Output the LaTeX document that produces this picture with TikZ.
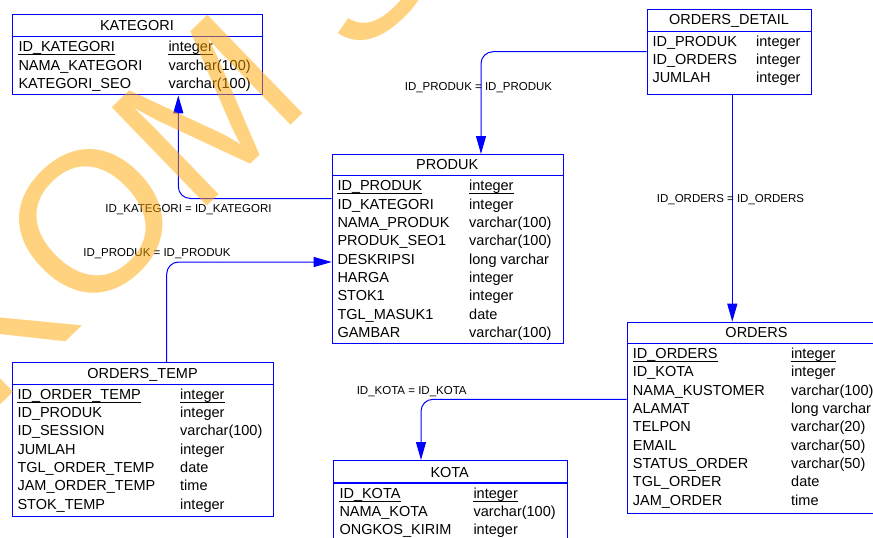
\documentclass[tikz,border=0pt]{standalone}
\usepackage{fontspec}
\setmainfont{Liberation Sans}
\usetikzlibrary{arrows.meta}
\definecolor{erblue}{RGB}{0,0,255}
\definecolor{wmorange}{RGB}{255,165,0}
\newcommand\cellfont{\fontsize{14.5}{17}\selectfont}
\newcommand\relfont{\fontsize{11.5}{13}\selectfont}
\tikzset{
  tbl/.style={draw=erblue, line width=1.1pt, anchor=north west, inner sep=0pt},
  hdr/.style={draw=erblue, line width=1.1pt},
  cell/.style={font=\cellfont, anchor=west, inner sep=0pt, text height=10.4pt, text depth=0pt},
  ttl/.style={font=\cellfont, anchor=center, inner sep=0pt, text height=10.4pt, text depth=0pt},
  keyline/.style={line width=0.9pt},
  rel/.style={draw=erblue, line width=1pt, rounded corners=12pt, -{Triangle[length=18pt,width=10pt]}},
  rellabel/.style={font=\relfont, inner sep=0pt, text height=8.2pt, text depth=0pt},
  watermark/.style={text=wmorange, opacity=0.5, font=\fontsize{199}{199}\selectfont,
    rotate=44, anchor=base west, inner sep=0pt}
}
% primary-key cell: text plus an underline just below the baseline
\newcommand\keycell[3]{%
  \node[cell] (#1) at (#2) {#3};
  \draw[keyline] ([yshift=-2.6pt]#1.south west) -- ([yshift=-2.6pt]#1.south east);}
\begin{document}
\begin{tikzpicture}[x=1pt,y=-1pt]
\useasboundingbox (0,0) rectangle (873,538);
\clip (0,0) rectangle (873,538);

% ---------------- KATEGORI
\node[tbl, minimum width=249.4pt, minimum height=80.3pt] (kategori) at (12.3,14) {};
\draw[hdr] (12.3,36.7) -- (262.7,36.7);
\node[ttl] (kategoriT) at (137,25) {KATEGORI};
\keycell{kat1a}{18.3,46.7}{ID\_KATEGORI}
\keycell{kat1b}{168.3,46.7}{integer}
\node[cell] (kat2a) at (18.3,65.3) {NAMA\_KATEGORI};
\node[cell] (kat2b) at (168.3,65.3) {varchar(100)};
\node[cell] (kat3a) at (18.3,83.6) {KATEGORI\_SEO};
\node[cell] (kat3b) at (168.3,83.6) {varchar(100)};

% ---------------- PRODUK
\node[tbl, minimum width=231pt, minimum height=189.3pt] (produk) at (331.7,154) {};
\draw[hdr] (331.7,175.3) -- (563.7,175.3);
\node[ttl] (produkT) at (447.2,164) {PRODUK};
\keycell{pro1a}{337.3,185.7}{ID\_PRODUK}
\keycell{pro1b}{469,185.7}{integer}
\node[cell] (pro2a) at (337.3,204) {ID\_KATEGORI};
\node[cell] (pro2b) at (469,204) {integer};
\node[cell] (pro3a) at (337.3,222.3) {NAMA\_PRODUK};
\node[cell] (pro3b) at (469,222.3) {varchar(100)};
\node[cell] (pro4a) at (337.3,240.6) {PRODUK\_SEO1};
\node[cell] (pro4b) at (469,240.6) {varchar(100)};
\node[cell] (pro5a) at (337.3,258.9) {DESKRIPSI};
\node[cell] (pro5b) at (469,258.9) {long varchar};
\node[cell] (pro6a) at (337.3,277.2) {HARGA};
\node[cell] (pro6b) at (469,277.2) {integer};
\node[cell] (pro7a) at (337.3,295.5) {STOK1};
\node[cell] (pro7b) at (469,295.5) {integer};
\node[cell] (pro8a) at (337.3,313.8) {TGL\_MASUK1};
\node[cell] (pro8b) at (469,313.8) {date};
\node[cell] (pro9a) at (337.3,332.1) {GAMBAR};
\node[cell] (pro9b) at (469,332.1) {varchar(100)};

% ---------------- ORDERS_DETAIL
\node[tbl, minimum width=164.3pt, minimum height=85.6pt] (ordersdetail) at (646.7,8.7) {};
\draw[hdr] (646.7,31.3) -- (812,31.3);
\node[ttl] (ordersdetailT) at (729,19.3) {ORDERS\_DETAIL};
\node[cell] (od1a) at (652.3,41.7) {ID\_PRODUK};
\node[cell] (od1b) at (756,41.7) {integer};
\node[cell] (od2a) at (652.3,59.7) {ID\_ORDERS};
\node[cell] (od2b) at (756,59.7) {integer};
\node[cell] (od3a) at (652.3,77.7) {JUMLAH};
\node[cell] (od3b) at (756,77.7) {integer};

% ---------------- ORDERS
\node[tbl, minimum width=259.3pt, minimum height=191pt] (orders) at (626.7,321.7) {};
\draw[hdr] (626.7,343.3) -- (886,343.3);
\node[ttl] (ordersT) at (756.5,332.3) {ORDERS};
\keycell{ord1a}{632.7,353.3}{ID\_ORDERS}
\keycell{ord1b}{791,353.3}{integer}
\node[cell] (ord2a) at (632.7,371.6) {ID\_KOTA};
\node[cell] (ord2b) at (791,371.6) {integer};
\node[cell] (ord3a) at (632.7,390) {NAMA\_KUSTOMER};
\node[cell] (ord3b) at (791,390) {varchar(100)};
\node[cell] (ord4a) at (632.7,408.3) {ALAMAT};
\node[cell] (ord4b) at (791,408.3) {long varchar};
\node[cell] (ord5a) at (632.7,426.6) {TELPON};
\node[cell] (ord5b) at (791,426.6) {varchar(20)};
\node[cell] (ord6a) at (632.7,445) {EMAIL};
\node[cell] (ord6b) at (791,445) {varchar(50)};
\node[cell] (ord7a) at (632.7,463.3) {STATUS\_ORDER};
\node[cell] (ord7b) at (791,463.3) {varchar(50)};
\node[cell] (ord8a) at (632.7,481.6) {TGL\_ORDER};
\node[cell] (ord8b) at (791,481.6) {date};
\node[cell] (ord9a) at (632.7,500) {JAM\_ORDER};
\node[cell] (ord9b) at (791,500) {time};

% ---------------- ORDERS_TEMP
\node[tbl, minimum width=261pt, minimum height=153.4pt] (orderstemp) at (11.7,362.3) {};
\draw[hdr] (11.7,384.3) -- (273.7,384.3);
\node[ttl] (orderstempT) at (142.5,373.3) {ORDERS\_TEMP};
\keycell{ot1a}{17.3,394}{ID\_ORDER\_TEMP}
\keycell{ot1b}{180,394}{integer}
\node[cell] (ot2a) at (17.3,412.3) {ID\_PRODUK};
\node[cell] (ot2b) at (180,412.3) {integer};
\node[cell] (ot3a) at (17.3,430.6) {ID\_SESSION};
\node[cell] (ot3b) at (180,430.6) {varchar(100)};
\node[cell] (ot4a) at (17.3,448.9) {JUMLAH};
\node[cell] (ot4b) at (180,448.9) {integer};
\node[cell] (ot5a) at (17.3,467.2) {TGL\_ORDER\_TEMP};
\node[cell] (ot5b) at (180,467.2) {date};
\node[cell] (ot6a) at (17.3,485.5) {JAM\_ORDER\_TEMP};
\node[cell] (ot6b) at (180,485.5) {time};
\node[cell] (ot7a) at (17.3,503.8) {STOK\_TEMP};
\node[cell] (ot7b) at (180,503.8) {integer};

% ---------------- KOTA
\node[tbl, minimum width=234pt, minimum height=90pt] (kota) at (332.7,460) {};
\draw[hdr] (332.7,483) -- (567.7,483);
\node[ttl] (kotaT) at (449.7,472.3) {KOTA};
\keycell{ko1a}{339.3,493.7}{ID\_KOTA}
\keycell{ko1b}{473.3,493.7}{integer}
\node[cell] (ko2a) at (339.3,511.7) {NAMA\_KOTA};
\node[cell] (ko2b) at (473.3,511.7) {varchar(100)};
\node[cell] (ko3a) at (339.3,529.7) {ONGKOS\_KIRIM};
\node[cell] (ko3b) at (473.3,529.7) {integer};

% ---------------- relationships
\coordinate (kbend) at (178.3,198.5);
\draw[rel] (kbend -| produk.west) -- (kbend) -- (kbend |- kategori.south);
\node[rellabel] (lblkat) at (188.5,208.3) {ID\_KATEGORI = ID\_KATEGORI};

\coordinate (tbend) at (166.7,262);
\draw[rel] (tbend |- orderstemp.north) -- (tbend) -- (tbend -| produk.west);
\node[rellabel] (lbltemp) at (157,252) {ID\_PRODUK = ID\_PRODUK};

\coordinate (dbend) at (481,51.7);
\draw[rel] (dbend -| ordersdetail.west) -- (dbend) -- (dbend |- produk.north);
\node[rellabel] (lbldet) at (478.5,86) {ID\_PRODUK = ID\_PRODUK};

\coordinate (ocol) at (732.3,200);
\draw[rel] (ocol |- ordersdetail.south) -- (ocol |- orders.north);
\node[rellabel] (lblord) at (730.5,198) {ID\_ORDERS = ID\_ORDERS};

\coordinate (kobend) at (421,399.3);
\draw[rel] (kobend -| orders.west) -- (kobend) -- (kobend |- kota.north);
\node[rellabel] (lblkota) at (411.7,390.3) {ID\_KOTA = ID\_KOTA};

% ---------------- watermark
\node[watermark] (wm) at (-234.4,632.1) {STIKOM SURABAYA};
\end{tikzpicture}
\end{document}
